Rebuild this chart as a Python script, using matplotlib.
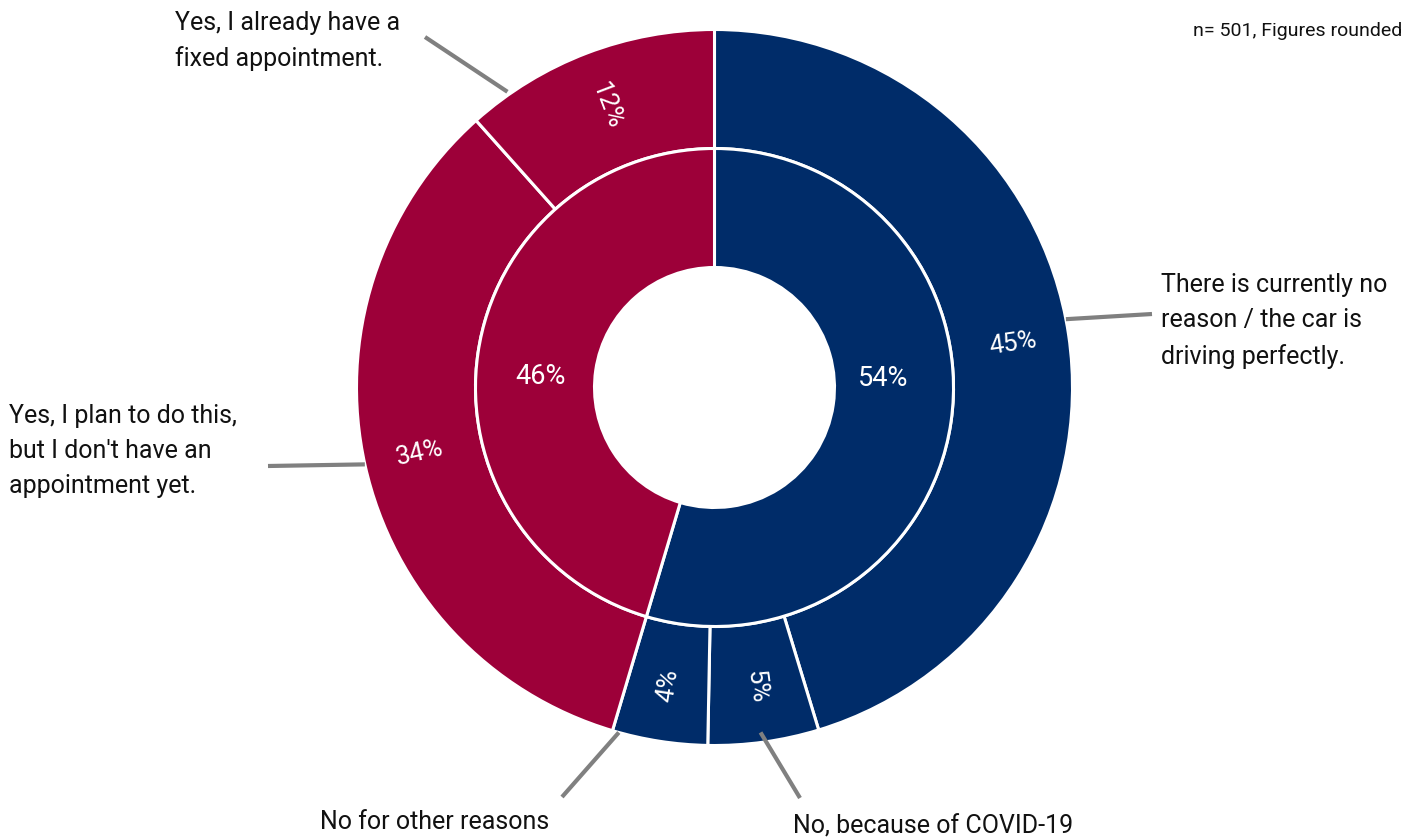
import numpy as np
import matplotlib.pyplot as plt

red = "#9D0039"
blue = "#002C69"
line_grey = "#808080"

outer_labels = [
    "There is currently no\nreason / the car is\ndriving perfectly.",
    "No, because of COVID-19",
    "No for other reasons",
    "Yes, I plan to do this,\nbut I don't have an\nappointment yet.",
    "Yes, I already have a\nfixed appointment.",
]
# unrounded shares (read from the wedge boundaries) and the rounded labels shown
outer_values = [45.3, 5.0, 4.3, 33.8, 11.6]
outer_pct = ["45%", "5%", "4%", "34%", "12%"]
outer_colors = [blue, blue, blue, red, red]
inner_values = [54.6, 45.4]
inner_pct = ["54%", "46%"]
inner_colors = [blue, red]
note = "n= 501, Figures rounded"

plt.rcParams["font.family"] = ["Roboto", "DejaVu Sans"]

W, H = 1403, 838
fig = plt.figure(figsize=(W / 100, H / 100), dpi=100)
ax = fig.add_axes([0, 0, 1, 1])

# pixel-like coordinates, y measured from the bottom
cx, cy = 714.5, H - 387.5
r_out, r_mid, ring = 358, 239, 119
edge = dict(edgecolor="white", linewidth=2.2)

wedges, _ = ax.pie(
    outer_values, colors=outer_colors, radius=r_out, center=(cx, cy),
    startangle=90, counterclock=False, wedgeprops=dict(width=ring, **edge),
)
for w, s in zip(wedges, outer_pct):
    theta = (w.theta1 + w.theta2) / 2
    a = np.deg2rad(theta)
    rot = theta if np.cos(a) >= 0 else theta + 180
    rr = r_out * 0.843
    ax.text(cx + rr * np.cos(a), cy + rr * np.sin(a), s, color="white",
            fontsize=18.5, rotation=rot, rotation_mode="anchor",
            ha="center", va="center")

in_wedges, _ = ax.pie(
    inner_values, colors=inner_colors, radius=r_mid, center=(cx, cy),
    startangle=90, counterclock=False, wedgeprops=dict(width=ring, **edge),
)
# inner labels sit nearly level with the centre
for s, ang, rr in zip(inner_pct, [3, 176.4], [169, 174]):
    a = np.deg2rad(ang)
    ax.text(cx + rr * np.cos(a), cy + rr * np.sin(a), s, color="white",
            fontsize=19.5, ha="center", va="center")

# leader lines: attach angle, attach radius, line end (image px), label anchor
leaders = [
    (11, 358, (1152, 314), (1161, 321), "left"),
    (-82.4, 348, (800, 798), (933, 826), "center"),
    (-105.5, 358, (562, 797), (435, 822), "center"),
    (192.4, 358, (268, 466), (9, 451), "left"),
    (125, 361, (425, 37), (175, 41), "left"),
]
for label, (ang, rr, end, txt, ha) in zip(outer_labels, leaders):
    a = np.deg2rad(ang)
    x0, y0 = cx + rr * np.cos(a), cy + rr * np.sin(a)
    ax.plot([x0, end[0]], [y0, H - end[1]], color=line_grey, lw=3,
            solid_capstyle="butt")
    ax.text(txt[0], H - txt[1], label, ha=ha, va="center", fontsize=18,
            color="#111111", linespacing=1.6)

ax.text(1193, H - 31, note, ha="left", va="center", fontsize=14, color="#111111")

ax.set_xlim(0, W)
ax.set_ylim(0, H)
ax.set_aspect("auto")
ax.axis("off")

fig.savefig("out.png", dpi=100, facecolor="white")
